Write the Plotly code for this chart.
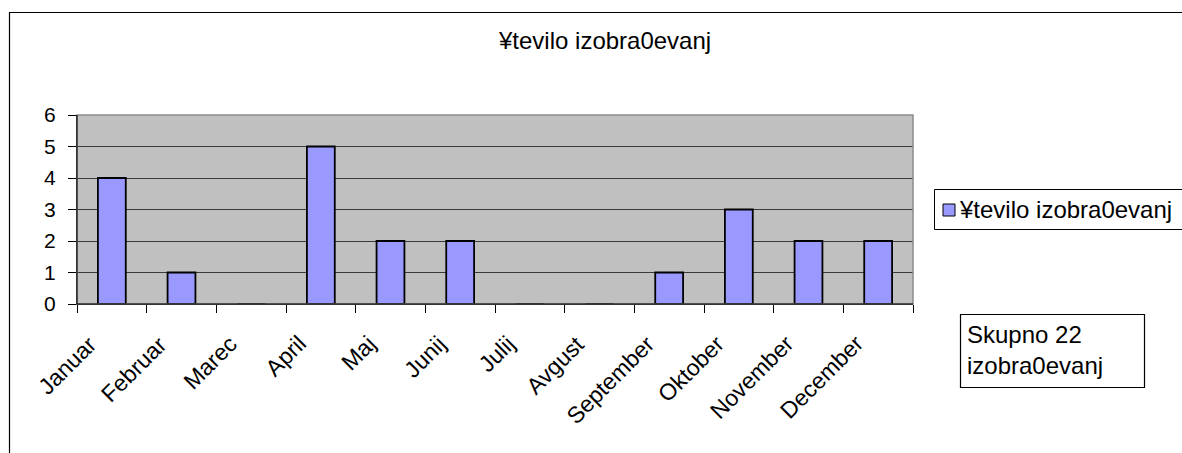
import plotly.graph_objects as go

months = ["Januar", "Februar", "Marec", "April", "Maj", "Junij", "Julij",
          "Avgust", "September", "Oktober", "November", "December"]
counts = [4, 1, 0, 5, 2, 2, 0, 0, 1, 3, 2, 2]
series_name = "¥tevilo izobra0evanj"
title_text = "¥tevilo izobra0evanj"
note_text = "Skupno 22<br>izobra0evanj"

W, H = 1182, 453
L, R, T, B = 77, 913, 115, 304
BAR_COLOR = "#9999FF"
FONT_FAMILY = "Liberation Sans, Arial, sans-serif"


def px(x):
    return (x - L) / (R - L)


def py(y):
    return (B - y) / (B - T)


tick_font = dict(family=FONT_FAMILY, size=21, color="black")
xlabel_font = dict(family=FONT_FAMILY, size=23, color="black")
big_font = dict(family=FONT_FAMILY, size=24, color="black")

fig = go.Figure()
fig.add_trace(go.Bar(
    x=months, y=counts, name=series_name,
    marker=dict(color=BAR_COLOR, line=dict(color="black", width=1.8)),
    showlegend=False,
))

fig.update_layout(
    width=W, height=H,
    margin=dict(l=L, r=W - R, t=T, b=H - B, pad=0, autoexpand=False),
    paper_bgcolor="white",
    plot_bgcolor="#C0C0C0",
    font=tick_font,
    bargap=0.6,
    showlegend=False,
    xaxis=dict(
        type="category", tickson="boundaries",
        range=[-0.5, len(months) - 0.5], autorange=False,
        ticks="outside", ticklen=8, tickcolor="black",
        showticklabels=False,
        showline=True, linecolor="black", linewidth=1,
        showgrid=False, fixedrange=True, automargin=False,
    ),
    yaxis=dict(
        range=[0, 6], autorange=False, dtick=1,
        ticks="outside", ticklen=8, tickcolor="black",
        ticklabelstandoff=8,
        showline=True, linecolor="black", linewidth=1,
        showgrid=True, gridcolor="#3a3a3a", gridwidth=1,
        zeroline=False, tickfont=tick_font, fixedrange=True,
        automargin=False,
    ),
)

# rotated category labels: rotated box's top-right corner sits just left of the category centre
for m in months:
    fig.add_annotation(text=m, xref="x", yref="paper", x=m, y=py(328),
                       xanchor="right", yanchor="top", xshift=-7,
                       textangle=-45, showarrow=False, font=xlabel_font)

# plot area border (top/right gray)
fig.add_shape(type="rect", xref="paper", yref="paper", x0=0, y0=0, x1=1, y1=1,
              line=dict(color="#8c8c8c", width=1.5), layer="above")
fig.add_shape(type="line", xref="paper", yref="paper", x0=0, y0=0, x1=0, y1=1,
              line=dict(color="black", width=1), layer="above")
fig.add_shape(type="line", xref="paper", yref="paper", x0=0, y0=0, x1=1, y1=0,
              line=dict(color="black", width=1), layer="above")

# outer chart border
fig.add_shape(type="rect", xref="paper", yref="paper",
              x0=px(9.5), y0=py(470), x1=px(1200), y1=py(12.5),
              line=dict(color="black", width=1.2))

# title
fig.add_annotation(text=title_text, xref="paper", yref="paper",
                   x=px(604), y=py(41), xanchor="center", yanchor="middle",
                   showarrow=False, font=big_font)

# legend (drawn by hand so it can be clipped at the right edge like the original)
fig.add_shape(type="rect", xref="paper", yref="paper",
              x0=px(934.5), y0=py(229.5), x1=px(1200), y1=py(189.5),
              line=dict(color="black", width=1), fillcolor="white")
fig.add_shape(type="rect", xref="paper", yref="paper",
              x0=px(943), y0=py(216), x1=px(955), y1=py(204),
              line=dict(color="black", width=1), fillcolor=BAR_COLOR)
fig.add_annotation(text=series_name, xref="paper", yref="paper",
                   x=px(957), y=py(209), xanchor="left", yanchor="middle",
                   showarrow=False, font=big_font)

# note box
fig.add_shape(type="rect", xref="paper", yref="paper",
              x0=px(960.5), y0=py(387.5), x1=px(1144.5), y1=py(314.5),
              line=dict(color="black", width=1.2), fillcolor="white")
fig.add_annotation(text=note_text, xref="paper", yref="paper",
                   x=px(965), y=py(350), xanchor="left", yanchor="middle",
                   align="left", showarrow=False, font=big_font)

fig.write_html("out.html", config={"displayModeBar": False},
               post_script="document.body.style.margin='0';")
